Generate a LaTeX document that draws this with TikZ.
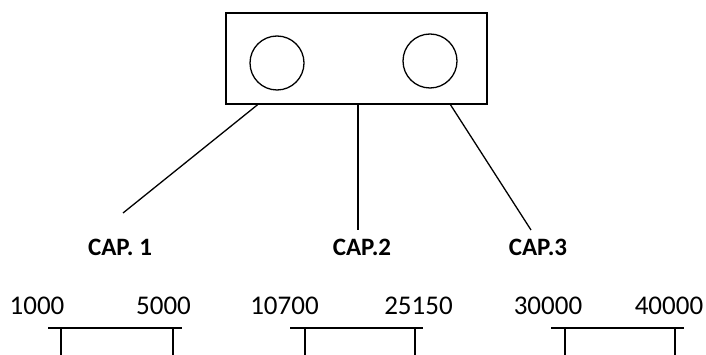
\documentclass[tikz,border=0pt]{standalone}
\usepackage{fontspec}
\setmainfont{Carlito}
\usetikzlibrary{calc}
\begin{document}
\begin{tikzpicture}[x=1pt, y=-1pt,
	capbox/.style={rectangle, draw, line width=1.6pt, minimum width=261pt, minimum height=91pt, inner sep=0pt},
	hole/.style={circle, draw, line width=1.3pt, minimum size=54pt, inner sep=0pt},
	caplabel/.style={inner sep=0pt, font=\fontsize{25}{25}\selectfont\bfseries},
	rangenum/.style={inner sep=0pt, font=\fontsize{27}{27}\selectfont},
	wire/.style={line width=1.3pt}]
	\useasboundingbox (0,0) rectangle (706,355);
	\node[capbox] (cab) at (356.5,58.5) {};
	\node[hole] (holeL) at (277,63) {};
	\node[hole] (holeR) at (430,61) {};

	\node[caplabel] (cap1) at (120,247) {CAP. 1};
	\node[caplabel] (cap2) at (362,247) {CAP.2};
	\node[caplabel] (cap3) at (538,247) {CAP.3};

	\coordinate (end1) at (123,213);
	\coordinate (end2) at (358,230);
	\coordinate (end3) at (531,230);

	% Lines
	\draw[wire] ($(cab.south west)!0.123!(cab.south east)$) -- (end1);
	\draw[wire] (cab.south -| end2) -- (end2);
	\draw[wire] ($(cab.south west)!0.858!(cab.south east)$) -- (end3);

	% Ranges
	\node[rangenum] (lo1) at (37,306) {1000};
	\node[rangenum] (hi1) at (163.5,306) {5000};
	\node[rangenum] (lo2) at (284.5,306) {10700};
	\node[rangenum] (hi2) at (418.5,306) {25150};
	\node[rangenum] (lo3) at (548,306) {30000};
	\node[rangenum] (hi3) at (669,306) {40000};

	\foreach \a/\b/\l/\r in {48/182/61/173, 290/423/305/415, 551/684/565/675} {
		\draw[line width=1.8pt] (\a,328) -- (\b,328);
		\draw[line width=1.5pt] (\l,328) -- (\l,356) (\r,328) -- (\r,356);
	}
\end{tikzpicture}
\end{document}
